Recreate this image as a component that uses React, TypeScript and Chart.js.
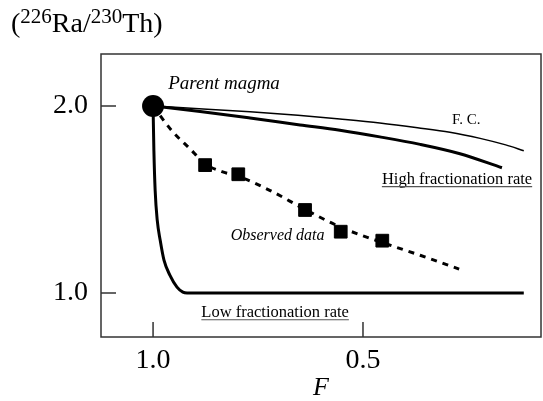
import React, { useEffect, useRef } from "react";
import { Chart, registerables } from "chart.js";

Chart.register(...registerables);

// F.C. (fractional crystallisation) curve
const fcF = [1.0, 0.9, 0.769, 0.655, 0.555, 0.46, 0.37, 0.293, 0.221, 0.16, 0.117];
const fcR = [2.0, 1.987, 1.969, 1.95, 1.93, 1.909, 1.884, 1.86, 1.827, 1.792, 1.761];

// High fractionation rate
const highF = [1.0, 0.888, 0.769, 0.65, 0.555, 0.46, 0.364, 0.269, 0.169];
const highR = [2.0, 1.971, 1.936, 1.899, 1.87, 1.835, 1.795, 1.745, 1.67];

// Low fractionation rate
const lowF = [1.0, 0.998, 0.995, 0.99, 0.983, 0.974, 0.96, 0.943, 0.929, 0.919, 0.7, 0.4, 0.117];
const lowR = [2.0, 1.76, 1.548, 1.388, 1.282, 1.176, 1.096, 1.032, 1.005, 1.0, 1.0, 1.0, 1.0];

// Dashed fit through observed data
const fitF = [1.0, 0.955, 0.912, 0.876, 0.836, 0.795, 0.721, 0.638, 0.552, 0.455, 0.364, 0.271];
const fitR = [2.0, 1.867, 1.771, 1.691, 1.649, 1.622, 1.548, 1.447, 1.351, 1.271, 1.202, 1.128];

// Observed data
const obsF = [0.876, 0.797, 0.638, 0.553, 0.454];
const obsR = [1.684, 1.635, 1.444, 1.328, 1.28];

// Parent magma
const parentF = [1.0];
const parentR = [2.0];

const xTicks = [1.0, 0.5];
const yTicks = [1.0, 2.0];

const SERIF = '"Liberation Serif", "Times New Roman", serif';

const zip = (xs: number[], ys: number[]) => xs.map((x, i) => ({ x, y: ys[i] }));

const framePlugin = {
  id: "frame",
  beforeDatasetsDraw(chart: any) {
    const { ctx, chartArea: a, scales } = chart;
    ctx.save();
    ctx.strokeStyle = "#333";
    ctx.lineWidth = 1.5;
    ctx.strokeRect(a.left, a.top, a.right - a.left, a.bottom - a.top);
    ctx.beginPath();
    xTicks.forEach((v) => {
      const px = scales.x.getPixelForValue(v);
      ctx.moveTo(px, a.bottom);
      ctx.lineTo(px, a.bottom - 15);
    });
    yTicks.forEach((v) => {
      const py = scales.y.getPixelForValue(v);
      ctx.moveTo(a.left, py);
      ctx.lineTo(a.left + 15, py);
    });
    ctx.stroke();
    ctx.restore();
  },
  afterDraw(chart: any) {
    const { ctx, scales } = chart;
    const X = (v: number) => scales.x.getPixelForValue(v);
    const Y = (v: number) => scales.y.getPixelForValue(v);
    ctx.save();
    ctx.fillStyle = "#000";
    ctx.textBaseline = "alphabetic";
    ctx.textAlign = "left";

    // Title (226Ra/230Th)
    let tx = 11;
    const base = 32;
    const parts: [string, boolean][] = [
      ["(", false],
      ["226", true],
      ["Ra/", false],
      ["230", true],
      ["Th)", false],
    ];
    parts.forEach(([s, sup]) => {
      ctx.font = sup ? `21px ${SERIF}` : `28px ${SERIF}`;
      ctx.fillText(s, tx, sup ? base - 9 : base);
      tx += ctx.measureText(s).width;
    });

    const label = (
      s: string,
      x: number,
      y: number,
      font: string,
      underline: boolean
    ) => {
      ctx.font = font;
      ctx.fillStyle = "#000";
      ctx.fillText(s, x, y);
      if (underline) {
        const w = ctx.measureText(s).width;
        ctx.strokeStyle = "#555";
        ctx.lineWidth = 1.2;
        ctx.beginPath();
        ctx.moveTo(x, y + 3);
        ctx.lineTo(x + w, y + 3);
        ctx.stroke();
      }
    };

    label("Parent magma", X(0.964), Y(2.122) + 6, `italic 19px ${SERIF}`, false);
    label("F. C.", X(0.288), Y(1.93) + 5, `15px ${SERIF}`, false);
    label("High fractionation rate", X(0.455), Y(1.612) + 5, `16.5px ${SERIF}`, true);
    label("Observed data", X(0.815), Y(1.31) + 5, `italic 16px ${SERIF}`, false);
    label("Low fractionation rate", X(0.885), Y(0.9) + 5, `16.5px ${SERIF}`, true);
    ctx.restore();
  },
};

export default function App() {
  const ref = useRef<HTMLCanvasElement | null>(null);
  useEffect(() => {
    if (!ref.current) return;
    const lineBase = {
      showLine: true,
      pointRadius: 0,
      pointHoverRadius: 0,
      fill: false,
      borderColor: "#000",
      backgroundColor: "#000",
      cubicInterpolationMode: "monotone" as const,
    };
    const noPad = (s: any) => {
      s.paddingLeft = 0;
      s.paddingRight = 0;
      s.paddingTop = 0;
      s.paddingBottom = 0;
    };
    const chart = new Chart(ref.current, {
      type: "scatter",
      data: {
        datasets: [
          { ...lineBase, label: "F. C.", data: zip(fcF, fcR), borderWidth: 1.5 },
          { ...lineBase, label: "High", data: zip(highF, highR), borderWidth: 3 },
          { ...lineBase, label: "Low", data: zip(lowF, lowR), borderWidth: 3 },
          {
            ...lineBase,
            label: "Fit",
            data: zip(fitF, fitR),
            borderWidth: 3,
            borderDash: [6, 6],
          },
          {
            label: "Observed",
            data: zip(obsF, obsR),
            showLine: false,
            pointStyle: "rect",
            pointRadius: 9,
            borderWidth: 1,
            borderColor: "#000",
            backgroundColor: "#000",
          },
          {
            label: "Parent magma",
            data: zip(parentF, parentR),
            showLine: false,
            pointStyle: "circle",
            pointRadius: 11,
            borderWidth: 0,
            borderColor: "#000",
            backgroundColor: "#000",
          },
        ],
      },
      options: {
        animation: false,
        responsive: false,
        devicePixelRatio: 1,
        layout: { autoPadding: false, padding: { top: 54, right: 2, left: 0, bottom: 0 } },
        plugins: {
          legend: { display: false },
          tooltip: { enabled: false },
          title: { display: false },
        },
        scales: {
          x: {
            type: "linear",
            reverse: true,
            min: 0.076,
            max: 1.124,
            afterBuildTicks: (s: any) => {
              s.ticks = xTicks.map((value) => ({ value }));
            },
            afterFit: (s: any) => {
              s.height = 64;
              noPad(s);
            },
            grid: { display: false, drawTicks: false },
            border: { display: false },
            ticks: {
              padding: 7,
              color: "#000",
              font: { family: SERIF, size: 28 },
              callback: (v: any) => Number(v).toFixed(1),
            },
            title: {
              display: true,
              text: "F",
              color: "#000",
              font: { family: SERIF, size: 26, style: "italic", lineHeight: 1 },
              padding: { top: 0, bottom: 0 },
            },
          },
          y: {
            type: "linear",
            min: 0.765,
            max: 2.278,
            afterBuildTicks: (s: any) => {
              s.ticks = yTicks.map((value) => ({ value }));
            },
            afterFit: (s: any) => {
              s.width = 101;
              noPad(s);
            },
            grid: { display: false, drawTicks: false },
            border: { display: false },
            ticks: {
              padding: 13,
              color: "#000",
              font: { family: SERIF, size: 28 },
              callback: (v: any) => Number(v).toFixed(1),
            },
          },
        },
      },
      plugins: [framePlugin],
    });
    return () => chart.destroy();
  }, []);
  return (
    <div style={{ position: "absolute", left: 0, top: 0, width: 543, height: 401, background: "#fff" }}>
      <canvas ref={ref} width={543} height={401} />
    </div>
  );
}
